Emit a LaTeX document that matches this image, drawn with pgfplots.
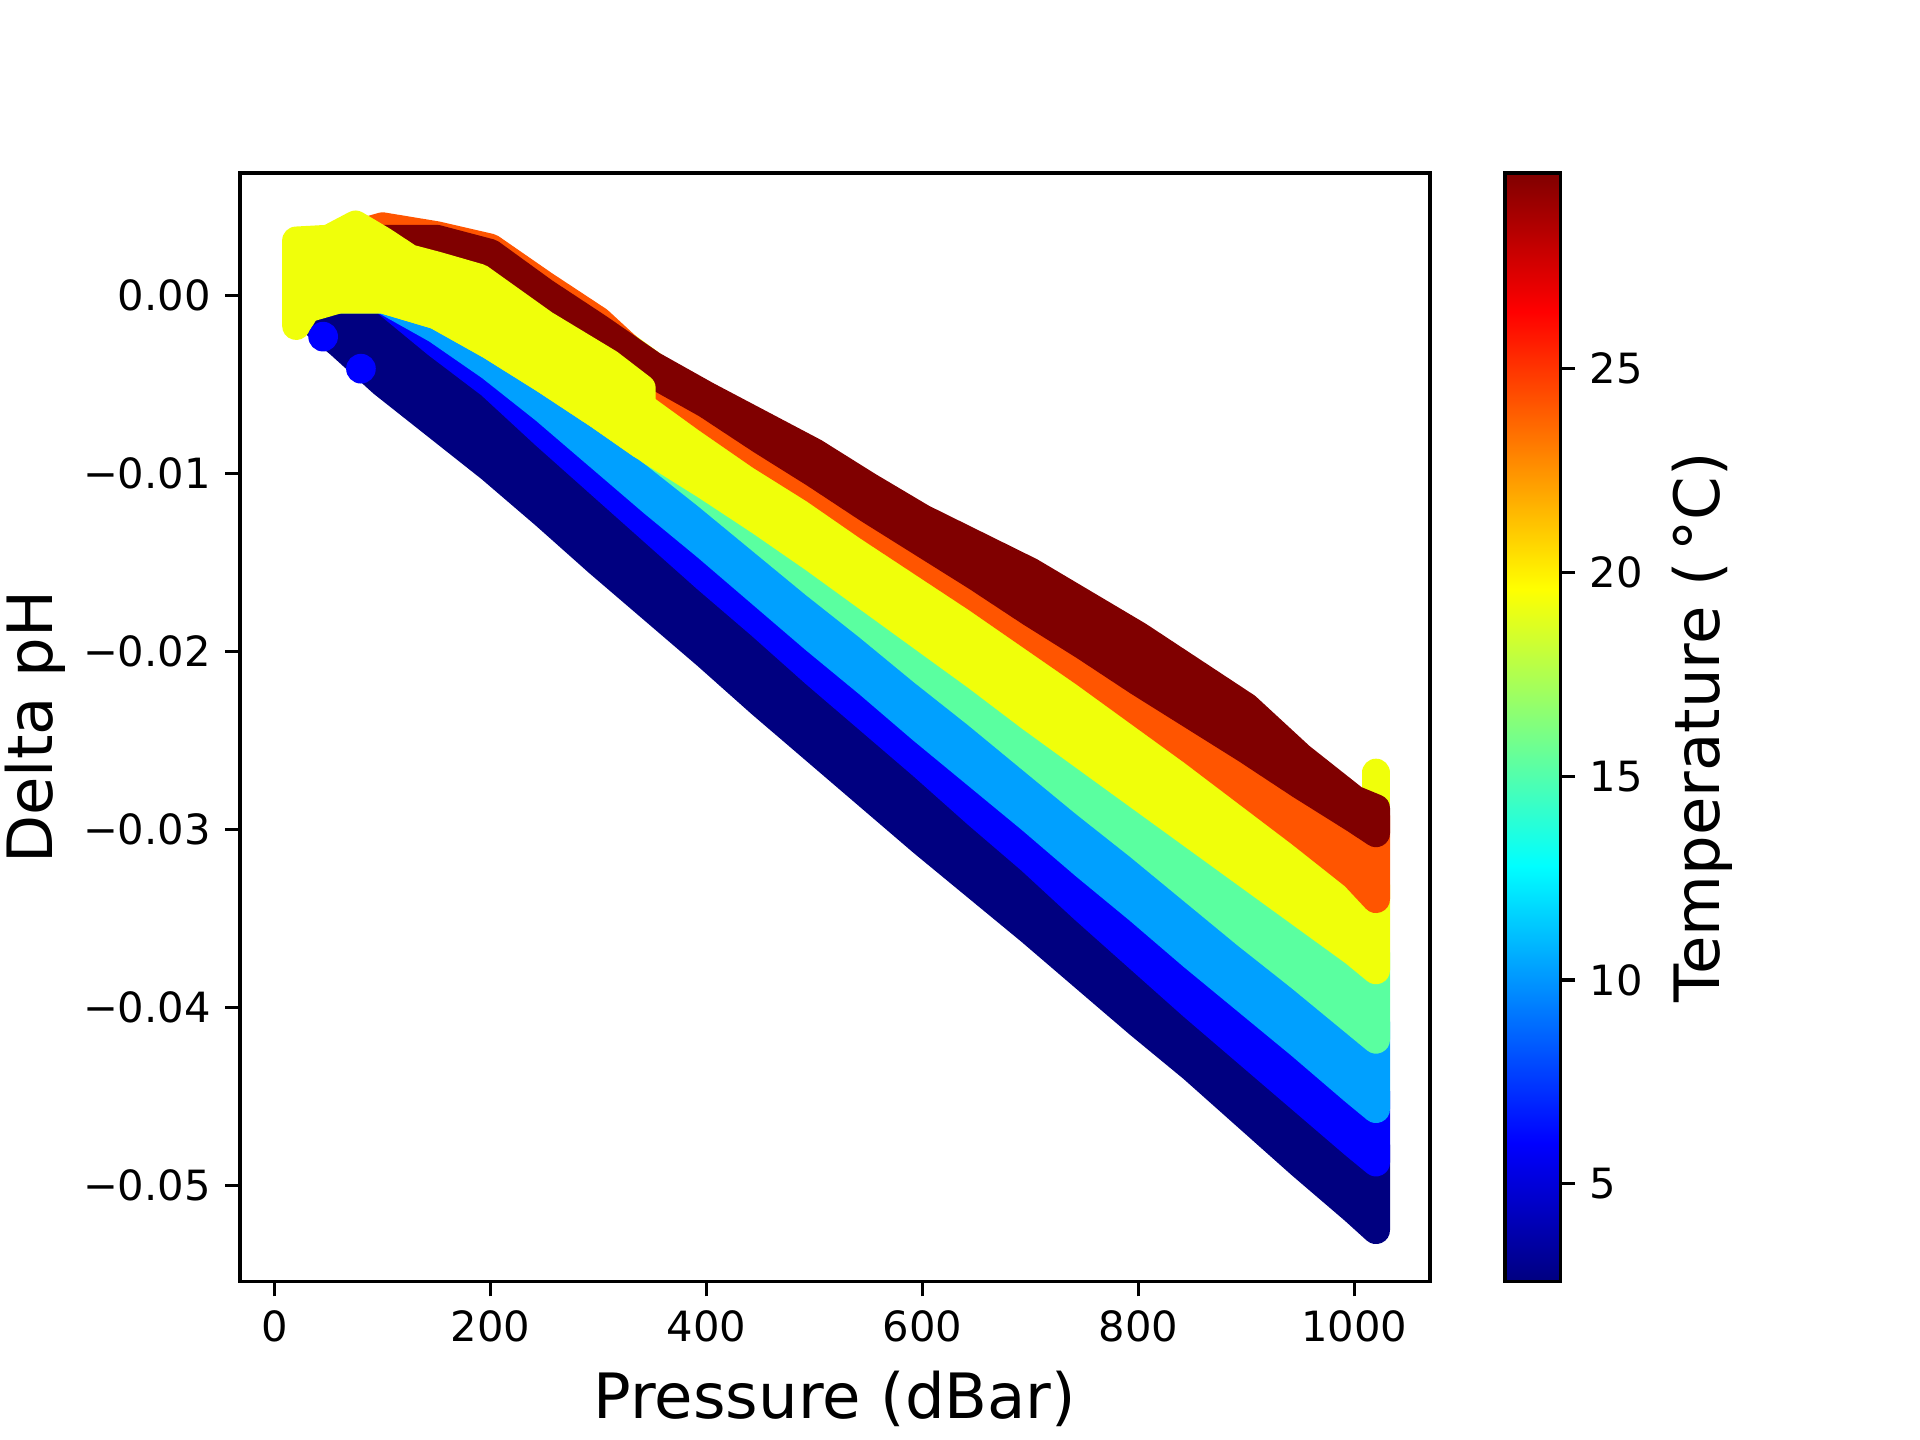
\documentclass[border=0pt]{standalone}
\usepackage{fontspec}
\setmainfont{DejaVu Sans}
\usepackage{pgfplots}
\pgfplotsset{compat=1.18}
\definecolor{cNV}{RGB}{0,0,128}
\definecolor{cBL}{RGB}{0,0,255}
\definecolor{cLB}{RGB}{0,160,255}
\definecolor{cGR}{RGB}{90,255,160}
\definecolor{cYE}{RGB}{240,255,10}
\definecolor{cOR}{RGB}{255,85,0}
\definecolor{cDR}{RGB}{128,0,0}
\pgfplotsset{band/.style={draw=#1, fill=#1, line width=6.72pt, line join=round, line cap=round, mark=none}}
\begin{document}
\begin{tikzpicture}
\useasboundingbox (-57.6pt,-38.0pt) rectangle (403.2pt,307.6pt);
\begin{axis}[
 at={(0pt,0pt)}, anchor=south west,
 scale only axis, width=285.6pt, height=266.1pt,
 xmin=-32, xmax=1070, ymin=-0.0554, ymax=0.0069,
 axis line style={line width=0.8pt},
 tick style={black, line width=0.8pt},
 major tick length=3.5pt, tick align=outside,
 xtick pos=bottom, ytick pos=left,
 xtick={0,200,400,600,800,1000},
 ytick={-0.05,-0.04,-0.03,-0.02,-0.01,0},
 yticklabels={−0.05,−0.04,−0.03,−0.02,−0.01,0.00},
 scaled y ticks=false,
 /pgf/number format/assume math mode=true,
 /pgf/number format/1000 sep={},
 ticklabel style={font=\fontsize{10}{12}\selectfont},
 xlabel={Pressure (dBar)}, ylabel={Delta pH},
 label style={font=\fontsize{15}{18}\selectfont},
 xlabel style={at={(axis description cs:0.5,-0.106)}, anchor=center},
 ylabel style={at={(axis description cs:-0.172,0.5)}, anchor=center},
 colormap/jet,
 point meta min=2.6, point meta max=29.8,
 colorbar,
 colorbar style={
   at={(parent axis.north east)}, anchor=north west, xshift=9.5pt,
   width=13.3pt,
   ytick={5,10,15,20,25},
   ytick pos=right, yticklabel pos=right,
   tick align=outside, major tick length=3.5pt,
   tick style={black, line width=0.8pt},
   axis line style={line width=0.8pt},
   /pgf/number format/assume math mode=true,
   yticklabel style={font=\fontsize{10}{12}\selectfont},
   ylabel={Temperature (\,°C)},
   ylabel style={font=\fontsize{15}{18}\selectfont, at={(axis description cs:3.55,0.5)}, anchor=center},
 },
]
% navy (coldest)
\addplot[band=cNV] coordinates {
(20,0.0010) (60,0.0008) (100,0.0008) (150,-0.0017) (200,-0.0040) (250,-0.0068) (300,-0.0095) (350,-0.0122) (400,-0.0149) (450,-0.0175) (500,-0.0202) (550,-0.0228) (600,-0.0254) (650,-0.0281) (700,-0.0307) (750,-0.0335) (800,-0.0362) (850,-0.0389) (900,-0.0415) (950,-0.0441) (1000,-0.0467) (1020,-0.0477)
(1020,-0.0525) (1000,-0.0514) (950,-0.0488) (900,-0.0461) (850,-0.0434) (800,-0.0409) (750,-0.0383) (700,-0.0357) (650,-0.0332) (600,-0.0307) (550,-0.0281) (500,-0.0255) (450,-0.0229) (400,-0.0202) (350,-0.0176) (300,-0.0150) (250,-0.0123) (200,-0.0097) (150,-0.0073) (100,-0.0049) (60,-0.0027) (20,-0.0007)
} --cycle;
% blue
\addplot[band=cBL] coordinates {
(20,0.0013) (60,0.0010) (100,0.0006) (150,-0.0009) (200,-0.0030) (250,-0.0054) (300,-0.0080) (350,-0.0106) (400,-0.0131) (450,-0.0157) (500,-0.0183) (550,-0.0208) (600,-0.0234) (650,-0.0259) (700,-0.0284) (750,-0.0310) (800,-0.0335) (850,-0.0361) (900,-0.0386) (950,-0.0411) (1000,-0.0437) (1020,-0.0447)
(1020,-0.0487) (1000,-0.0477) (950,-0.0451) (900,-0.0425) (850,-0.0399) (800,-0.0372) (750,-0.0345) (700,-0.0317) (650,-0.0291) (600,-0.0264) (550,-0.0238) (500,-0.0212) (450,-0.0185) (400,-0.0159) (350,-0.0132) (300,-0.0105) (250,-0.0078) (200,-0.0050) (150,-0.0027) (100,-0.0002) (60,-0.0002) (20,0.0000)
} --cycle;
\addplot[only marks, mark=*, mark size=3.36pt, color=cBL] coordinates {(45,-0.0023) (80,-0.0041)};
% light blue
\addplot[band=cLB] coordinates {
(20,0.0004) (60,0.0008) (100,0.0008) (150,0.0001) (200,-0.0014) (250,-0.0031) (300,-0.0053) (350,-0.0078) (400,-0.0102) (450,-0.0127) (500,-0.0152) (550,-0.0176) (600,-0.0201) (650,-0.0225) (700,-0.0250) (750,-0.0275) (800,-0.0299) (850,-0.0324) (900,-0.0349) (950,-0.0373) (1000,-0.0398) (1020,-0.0408)
(1020,-0.0457) (1000,-0.0447) (950,-0.0421) (900,-0.0396) (850,-0.0371) (800,-0.0345) (750,-0.0320) (700,-0.0294) (650,-0.0269) (600,-0.0244) (550,-0.0218) (500,-0.0193) (450,-0.0167) (400,-0.0141) (350,-0.0116) (300,-0.0090) (250,-0.0064) (200,-0.0040) (150,-0.0019) (100,-0.0002) (60,0.0000) (20,0.0003)
} --cycle;
% green
\addplot[band=cGR] coordinates {
(20,0.0001) (60,0.0008) (100,0.0008) (150,-0.0001) (200,-0.0018) (250,-0.0037) (300,-0.0057) (350,-0.0078) (400,-0.0097) (450,-0.0117) (500,-0.0138) (550,-0.0160) (600,-0.0182) (650,-0.0204) (700,-0.0227) (750,-0.0249) (800,-0.0271) (850,-0.0293) (900,-0.0315) (950,-0.0337) (1000,-0.0359) (1020,-0.0369)
(1020,-0.0418) (1000,-0.0408) (950,-0.0383) (900,-0.0359) (850,-0.0334) (800,-0.0309) (750,-0.0285) (700,-0.0260) (650,-0.0235) (600,-0.0211) (550,-0.0186) (500,-0.0162) (450,-0.0137) (400,-0.0112) (350,-0.0088) (300,-0.0063) (250,-0.0041) (200,-0.0024) (150,-0.0009) (100,-0.0002) (60,-0.0002) (20,-0.0006)
} --cycle;
% yellow
\addplot[band=cYE] coordinates {
(20,0.0026) (60,0.0031) (100,0.0031) (150,0.0026) (200,0.0016) (250,0.0001) (300,-0.0017) (350,-0.0039) (400,-0.0061) (450,-0.0082) (500,-0.0101) (550,-0.0122) (600,-0.0142) (650,-0.0162) (700,-0.0183) (750,-0.0204) (800,-0.0226) (850,-0.0248) (900,-0.0271) (950,-0.0294) (1000,-0.0318) (1020,-0.0331)
(1020,-0.0379) (1000,-0.0369) (950,-0.0347) (900,-0.0325) (850,-0.0303) (800,-0.0281) (750,-0.0259) (700,-0.0237) (650,-0.0214) (600,-0.0192) (550,-0.0170) (500,-0.0148) (450,-0.0127) (400,-0.0107) (350,-0.0088) (300,-0.0067) (250,-0.0047) (200,-0.0028) (150,-0.0011) (100,-0.0002) (60,-0.0002) (20,-0.0009)
} --cycle;
\addplot[band=cYE] coordinates {(1020,-0.0268) (1020,-0.0310)};
% orange
\addplot[band=cOR] coordinates {
(20,0.0022) (60,0.0032) (100,0.0039) (150,0.0034) (200,0.0027) (250,0.0006) (300,-0.0014) (350,-0.0042) (400,-0.0059) (450,-0.0075) (500,-0.0091) (550,-0.0110) (600,-0.0129) (650,-0.0148) (700,-0.0168) (750,-0.0187) (800,-0.0207) (850,-0.0226) (900,-0.0245) (950,-0.0265) (1000,-0.0286) (1020,-0.0292)
(1020,-0.0339) (1000,-0.0326) (950,-0.0302) (900,-0.0279) (850,-0.0256) (800,-0.0234) (750,-0.0212) (700,-0.0191) (650,-0.0170) (600,-0.0150) (550,-0.0130) (500,-0.0109) (450,-0.0090) (400,-0.0069) (350,-0.0047) (300,-0.0025) (250,-0.0007) (200,0.0008) (150,0.0018) (100,0.0023) (60,0.0023) (20,0.0018)
} --cycle;
% dark red (warmest)
\addplot[band=cDR] coordinates {
(20,0.0022) (60,0.0027) (100,0.0032) (150,0.0032) (200,0.0024) (250,0.0002) (300,-0.0018) (350,-0.0039) (400,-0.0056) (450,-0.0072) (500,-0.0088) (550,-0.0107) (600,-0.0125) (650,-0.0140) (700,-0.0155) (750,-0.0173) (800,-0.0191) (850,-0.0211) (900,-0.0231) (950,-0.0259) (1000,-0.0283) (1020,-0.0288)
(1020,-0.0302) (1000,-0.0294) (950,-0.0275) (900,-0.0255) (850,-0.0236) (800,-0.0217) (750,-0.0197) (700,-0.0178) (650,-0.0158) (600,-0.0139) (550,-0.0120) (500,-0.0100) (450,-0.0081) (400,-0.0061) (350,-0.0044) (300,-0.0022) (250,-0.0004) (200,0.0012) (150,0.0018) (100,0.0020) (60,0.0017) (20,0.0012)
} --cycle;
% yellow, shallow part drawn last
\addplot[band=cYE] coordinates {
(20,0.0031) (50,0.0032) (75,0.0040) (100,0.0031) (125,0.0021) (150,0.0017) (190,0.0010) (250,-0.0016) (310,-0.0038) (340,-0.0052)
(340,-0.0084) (300,-0.0067) (250,-0.0047) (200,-0.0028) (150,-0.0011) (100,-0.0002) (60,-0.0002) (33,-0.0004) (20,-0.0017)
} --cycle;
\end{axis}
\end{tikzpicture}
\end{document}
